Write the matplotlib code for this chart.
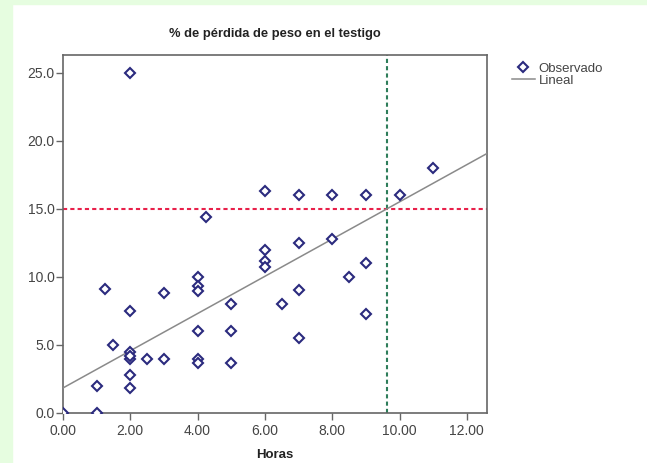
import matplotlib.pyplot as plt
import numpy as np

plt.rcParams['font.family'] = ['Liberation Sans', 'DejaVu Sans']

# observed points (hours, % weight loss)
horas = [0, 1, 1, 1.25, 1.5, 2, 2, 2, 2, 2, 2, 2, 2.5, 3, 3,
         4, 4, 4, 4, 4, 4, 4.25, 5, 5, 5, 6, 6, 6, 6, 6.5,
         7, 7, 7, 7, 8, 8, 8.5, 9, 9, 9, 10, 11]
perdida = [0, 0, 2.0, 9.1, 5.0, 25.0, 7.5, 4.5, 4.0, 2.8, 1.85, 4.2, 4.0, 8.8, 4.0,
           10.0, 9.3, 8.95, 6.0, 4.0, 3.7, 14.4, 8.0, 6.0, 3.65, 16.3, 12.0, 11.2, 10.7, 8.0,
           16.0, 12.5, 9.0, 5.5, 16.0, 12.8, 10.0, 16.0, 11.0, 7.25, 16.0, 18.0]

# linear fit
fit_intercept = 1.84
fit_slope = 1.367

ref_y = 15.0      # horizontal reference
ref_x = 9.63      # vertical reference

xticks = [0, 2, 4, 6, 8, 10, 12]
yticks = [0, 5, 10, 15, 20, 25]

fig = plt.figure(figsize=(6.47, 4.63), dpi=100, facecolor='white')
# light green frame on left and top
fig.patches.append(plt.Rectangle((0, 0), 12 / 647, 1, transform=fig.transFigure,
                                 color='#e6fde0', zorder=0))
fig.patches.append(plt.Rectangle((0, 1 - 4 / 463), 1, 4 / 463, transform=fig.transFigure,
                                 color='#e6fde0', zorder=0))

ax = fig.add_axes([63 / 647, 50 / 463, 424 / 647, 358 / 463])
xmax, ymax = 12.6, 26.3
ax.set_xlim(0, xmax)
ax.set_ylim(0, ymax)

ax.axhline(ref_y, color='#e8204a', lw=1.5, ls=(0, (2, 1.5)), zorder=2)
ax.axvline(ref_x, color='#2e7d5a', lw=1.5, ls=(0, (2, 1.5)), zorder=2)

xs = np.array([0, xmax])
ax.plot(xs, fit_intercept + fit_slope * xs, color='#8a8a8a', lw=1.1, label='Lineal', zorder=3)
ax.plot(horas, perdida, ls='none', marker='D', ms=5, mfc='white', mec='#2b2a7e',
        mew=1.5, label='Observado', zorder=4)

ax.set_xticks(xticks)
ax.set_xticklabels([f'{v:.2f}' for v in xticks])
ax.set_yticks(yticks)
ax.set_yticklabels([f'{v:.1f}' for v in yticks])
ax.tick_params(direction='out', length=5, width=1, color='#666666',
               labelsize=10, labelcolor='#444444', pad=1)
ax.tick_params(axis='x', pad=3)
for s in ax.spines.values():
    s.set_color('#666666')
    s.set_linewidth(1.2)

ax.set_xlabel('Horas', fontsize=9.5, fontweight='bold', color='#222222', labelpad=8)
ax.set_title('% de pérdida de peso en el testigo', fontsize=9.3, fontweight='bold',
             color='#222222', pad=13)

h, l = ax.get_legend_handles_labels()
leg = fig.legend(h[::-1], l[::-1], loc='upper left', bbox_to_anchor=(507 / 647, 1 - 57 / 463),
                 frameon=False, fontsize=9.5, handlelength=1.7, handletextpad=0.3,
                 labelspacing=0.0, borderaxespad=0)
for t in leg.get_texts():
    t.set_color('#444444')

fig.savefig('out.png', dpi=100)
